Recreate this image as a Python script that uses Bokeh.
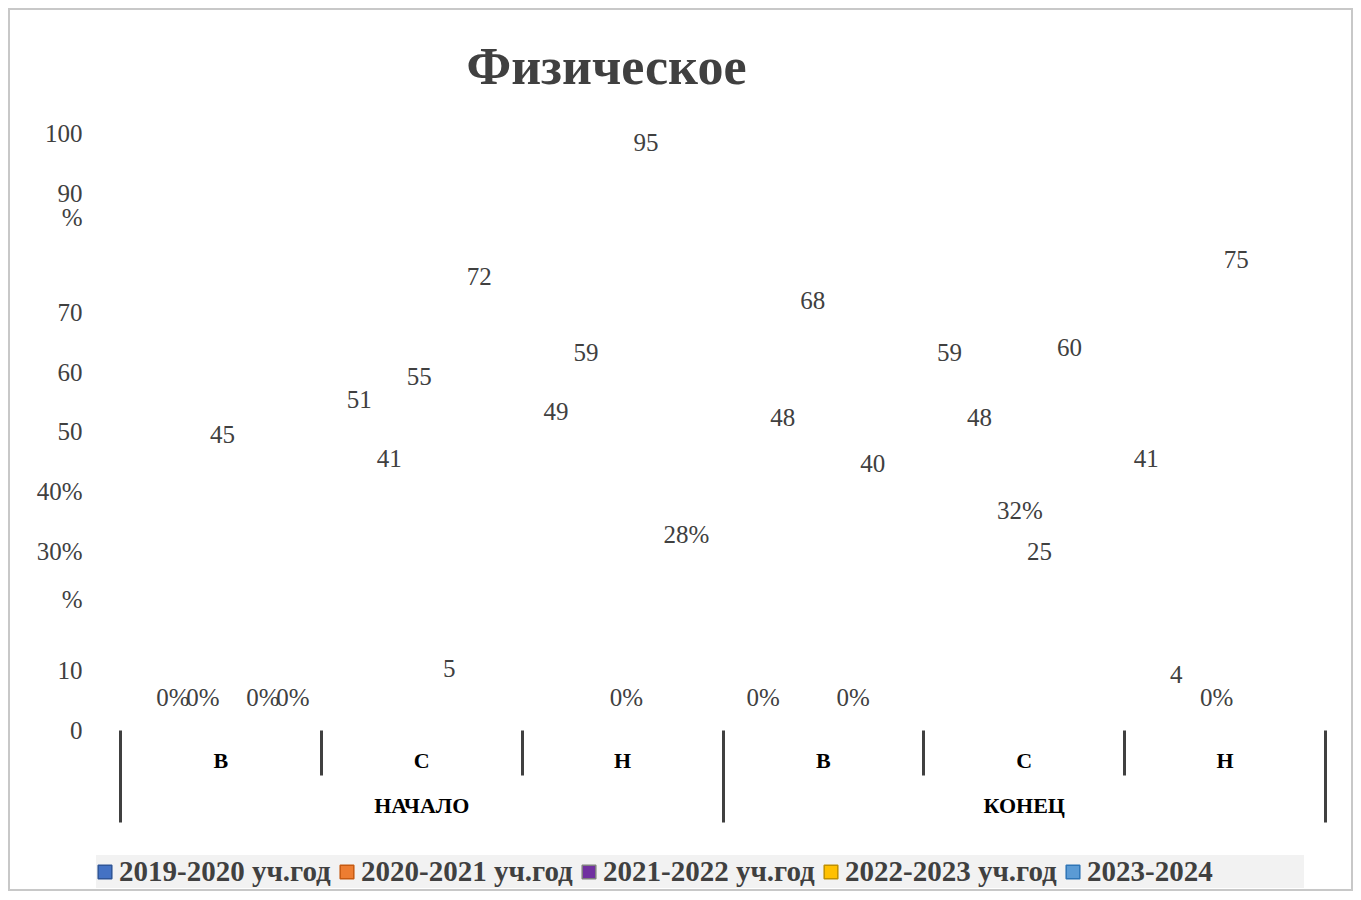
from bokeh.plotting import figure
from bokeh.layouts import column
from bokeh.models import (Range1d, LinearAxis, FixedTicker,
                          ColumnDataSource, Legend, LegendItem)
from bokeh.core.properties import value
from bokeh.embed import file_html
from bokeh.resources import INLINE

# ---------------- data ----------------
title_text = "Физическое"
stages = ["НАЧАЛО", "КОНЕЦ"]
levels = ["В", "С", "Н"]
series_names = ["2019-2020 уч.год", "2020-2021 уч.год", "2021-2022 уч.год",
                "2022-2023 уч.год", "2023-2024"]
colors = ["#4472C4", "#ED7D31", "#7030A0", "#FFC000", "#5B9BD5"]
edge_colors = ["#2F5597", "#C55A11", "#7F7F7F", "#BF9000", "#2E75B6"]

vals_2019 = [0, 51, 49, 0, 59, 41]
vals_2020 = [0, 41, 59, 48, 48, 4]
vals_2021 = [45, 55, 0, 68, 32, 0]
vals_2022 = [0, 5, 95, 0, 25, 75]
vals_2023 = [0, 72, 28, 40, 60, None]

text_2019 = ["0%", "51", "49", "0%", "59", "41"]
text_2020 = ["0%", "41", "59", "48", "48", "4"]
text_2021 = ["45", "55", "0%", "68", "32%", "0%"]
text_2022 = ["0%", "5", "95", "0%", "25", "75"]
text_2023 = ["0%", "72", "28%", "40", "60", ""]

# tick labels as they appear on the value axis of the reference
y_ticks = [0, 10, 22, 30, 40, 50, 60, 70, 86, 90, 100]
y_tick_labels = ["0", "10", "%", "30%", "40%", "50", "60", "70", "%", "90", "100"]

all_vals = [vals_2019, vals_2020, vals_2021, vals_2022, vals_2023]
all_texts = [text_2019, text_2020, text_2021, text_2022, text_2023]

# ---------------- chart ----------------
FONT = "Liberation Serif"
GREY = "#404040"
BORDER = "2px solid #c8c8c8"
n_lv = len(levels)
n_cat = len(stages) * n_lv
cat_labels = [lv for st in stages for lv in levels]

p = figure(width=1345, height=825,
           x_range=Range1d(0, n_cat), y_range=Range1d(0, 103.85),
           x_axis_location=None, y_axis_location=None,
           output_backend="svg", toolbar_location=None,
           min_border_left=110, min_border_right=30, min_border_top=100, min_border_bottom=105)
p.styles = {"border": BORDER, "border-bottom": "none"}
p.outline_line_color = None
p.grid.visible = False
p.background_fill_color = "white"
p.border_fill_color = "white"

p.extra_x_ranges = {"lab": Range1d(-0.0183, 6.1062)}
p.extra_y_ranges = {"lab": Range1d(-5.613, 100.48)}

# title
p.title.text = title_text
p.title.text_font = FONT
p.title.text_font_size = "52px"
p.title.text_font_style = "bold"
p.title.text_color = GREY
p.title.align = "left"
p.title.offset = 346
p.title.standoff = 32

# y axis
yax = LinearAxis(ticker=FixedTicker(ticks=y_ticks, minor_ticks=[]),
                 major_label_overrides={t: l for t, l in zip(y_ticks, y_tick_labels)},
                 axis_line_color=None, major_tick_line_color=None, minor_tick_line_color=None,
                 major_tick_in=0, major_tick_out=0, minor_tick_in=0, minor_tick_out=0,
                 major_label_standoff=38, major_label_text_font=FONT,
                 major_label_text_font_size="25px", major_label_text_color=GREY)
p.add_layout(yax, "left")

# separators (ticks of a helper axis, drawn downward)
sep = LinearAxis(ticker=FixedTicker(ticks=[i * n_lv for i in range(len(stages) + 1)],
                                    minor_ticks=[i for i in range(1, n_cat) if i % n_lv]),
                 axis_line_color=None,
                 major_tick_in=-92, major_tick_out=0, minor_tick_in=-45, minor_tick_out=0,
                 major_tick_line_color=GREY, major_tick_line_width=3,
                 minor_tick_line_color=GREY, minor_tick_line_width=3,
                 major_label_text_font_size="1px", major_label_text_color=None,
                 major_label_standoff=0)
p.add_layout(sep, "below")

# inner category labels
in_ticks = [k + 0.5 for k in range(n_cat)]
ax_in = LinearAxis(ticker=FixedTicker(ticks=in_ticks, minor_ticks=[]),
                   major_label_overrides={t: l for t, l in zip(in_ticks, cat_labels)},
                   axis_line_color=None, major_tick_line_color=None, minor_tick_line_color=None,
                   major_tick_out=0, major_tick_in=0, minor_tick_in=0, minor_tick_out=0,
                   major_label_standoff=17,
                   major_label_text_font=FONT, major_label_text_font_size="22px",
                   major_label_text_font_style="bold", major_label_text_color="black")
p.add_layout(ax_in, "below")

# group labels
grp_ticks = [i * n_lv + n_lv / 2 for i in range(len(stages))]
ax_grp = LinearAxis(ticker=FixedTicker(ticks=grp_ticks, minor_ticks=[]),
                    major_label_overrides={t: l for t, l in zip(grp_ticks, stages)},
                    axis_line_color=None, major_tick_line_color=None, minor_tick_line_color=None,
                    major_tick_out=0, major_tick_in=0, minor_tick_in=0, minor_tick_out=0,
                    major_label_standoff=17,
                    major_label_text_font=FONT, major_label_text_font_size="22px",
                    major_label_text_font_style="bold", major_label_text_color="black")
p.add_layout(ax_grp, "below")

# ---------------- legend strip (own figure, same series) ----------------
pl = figure(width=1345, height=58, x_range=Range1d(0, n_cat), y_range=Range1d(500, 501),
            x_axis_location=None, y_axis_location=None,
            output_backend="svg", toolbar_location=None,
            min_border_left=0, min_border_right=0, min_border_top=0, min_border_bottom=0)
pl.styles = {"border": BORDER, "border-top": "none"}
pl.outline_line_color = None
pl.grid.visible = False
pl.border_fill_color = "white"

free_frame = True
try:
    pl.frame_align = False
except Exception:
    free_frame = False

# bars (rendered transparent as in the reference) and labels
n = len(series_names)
step = 0.1525
items = []
for s in range(n):
    xs, tops, txt, xoff = [], [], [], []
    for k in range(n_cat):
        v = all_vals[s][k]
        if v is None:
            continue
        xs.append(k + 0.5 + (s - (n - 1) / 2) * step)
        tops.append(v)
        t = all_texts[s][k]
        txt.append(t)
        xoff.append(-6.25 * len(t.rstrip("%")))
    src = ColumnDataSource(dict(x=xs, top=tops, text=txt, xoff=xoff))
    p.vbar(x="x", top="top", width=step * 0.9, source=src,
           fill_color=colors[s], fill_alpha=0, line_alpha=0)
    p.text(x="x", y="top", text="text", source=src, x_range_name="lab", y_range_name="lab",
           text_align="left", text_baseline="middle", x_offset="xoff",
           text_font=value(FONT), text_font_size="25px", text_color=GREY)
    key = pl.vbar(x="x", top="top", width=step * 0.9, source=src,
                  fill_color=colors[s], line_color=edge_colors[s], line_width=1.5)
    items.append(LegendItem(label=series_names[s], renderers=[key]))

if free_frame:
    leg_loc, leg_lw, leg_sp = (86, 3), 217, 2
else:
    leg_loc, leg_lw, leg_sp = (0, 3), 20, 2

legend = Legend(items=items, orientation="horizontal", location=leg_loc,
                background_fill_color="#f2f2f2", background_fill_alpha=1.0,
                border_line_color=None, padding=7, spacing=leg_sp, margin=0,
                label_standoff=6, glyph_width=17, glyph_height=17, label_width=leg_lw,
                label_text_font=FONT, label_text_font_size="29px",
                label_text_font_style="bold", label_text_color=GREY)
pl.add_layout(legend)

layout = column(p, pl, spacing=0)
layout.margin = (8, 0, 0, 8)

open("out.html", "w").write(file_html(layout, INLINE))
